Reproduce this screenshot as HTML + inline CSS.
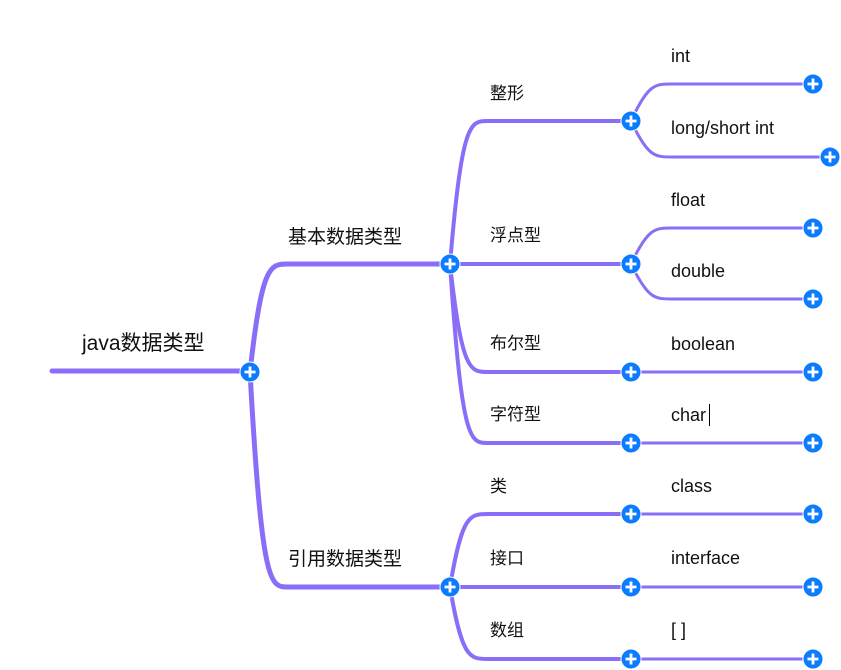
<!DOCTYPE html>
<html><head><meta charset="utf-8"><style>
html,body{margin:0;padding:0;background:#fff;}
svg{display:block}
text{font-family:"Liberation Sans","Noto Sans CJK SC",sans-serif;fill:#111;}
</style></head><body>
<svg width="841" height="670" viewBox="0 0 841 670" xmlns="http://www.w3.org/2000/svg">
<defs>
<g id="p"><circle r="10" fill="#0b7bff" stroke="#fff" stroke-width="1"/><path d="M-5.5 0H5.5M0 -5.5V5.5" stroke="#fff" stroke-width="2.8"/></g>
</defs>
<g fill="none" stroke="#8a6ef7" stroke-linecap="round">
<path d="M52 371 L250 371" stroke-width="5"/>
<path d="M250 372 C262 264 270 264 288 264 L450 264" stroke-width="5"/>
<path d="M250 372 C262 587 270 587 288 587 L450 587" stroke-width="5"/>
<g stroke-width="4">
<path d="M450 264 C462 121 470 121 488 121 L631 121"/>
<path d="M450 264 L631 264"/>
<path d="M450 264 C462 372 470 372 488 372 L631 372"/>
<path d="M450 264 C462 443 470 443 488 443 L631 443"/>
<path d="M450 587 C462 514 470 514 488 514 L631 514"/>
<path d="M450 587 L631 587"/>
<path d="M450 587 C462 659 470 659 488 659 L631 659"/>
</g>
<g stroke-width="3">
<path d="M631 121 C648 84 655 84 672 84 L813 84"/>
<path d="M631 121 C648 157 655 157 672 157 L830 157"/>
<path d="M631 264 C648 228 655 228 672 228 L813 228"/>
<path d="M631 264 C648 299 655 299 672 299 L813 299"/>
<path d="M631 372 L813 372"/>
<path d="M631 443 L813 443"/>
<path d="M631 514 C645 514 650 514 672 514 L813 514"/>
<path d="M631 587 L813 587"/>
<path d="M631 659 L813 659"/>
</g>
</g>
<use href="#p" x="250" y="372"/>
<use href="#p" x="450" y="264"/><use href="#p" x="450" y="587"/>
<use href="#p" x="631" y="121"/><use href="#p" x="631" y="264"/><use href="#p" x="631" y="372"/><use href="#p" x="631" y="443"/>
<use href="#p" x="631" y="514"/><use href="#p" x="631" y="587"/><use href="#p" x="631" y="659"/>
<use href="#p" x="813" y="84"/><use href="#p" x="830" y="157"/><use href="#p" x="813" y="228"/><use href="#p" x="813" y="299"/>
<use href="#p" x="813" y="372"/><use href="#p" x="813" y="443"/><use href="#p" x="813" y="514"/><use href="#p" x="813" y="587"/><use href="#p" x="813" y="659"/>
<text x="82" y="350" font-size="21">java数据类型</text>
<text x="288" y="243" font-size="19">基本数据类型</text>
<text x="288" y="565" font-size="19">引用数据类型</text>
<g font-size="17">
<text x="490" y="99">整形</text>
<text x="490" y="241">浮点型</text>
<text x="490" y="349">布尔型</text>
<text x="490" y="420">字符型</text>
<text x="490" y="492">类</text>
<text x="490" y="564">接口</text>
<text x="490" y="636">数组</text>
</g>
<g font-size="18">
<text x="671" y="62">int</text>
<text x="671" y="134">long/short int</text>
<text x="671" y="206">float</text>
<text x="671" y="277">double</text>
<text x="671" y="350">boolean</text>
<text x="671" y="421">char</text>
<text x="671" y="492">class</text>
<text x="671" y="564">interface</text>
<text x="671" y="636">[ ]</text>
</g>
<line x1="709.5" y1="404" x2="709.5" y2="426" stroke="#000" stroke-width="1"/>
</svg>
</body></html>
